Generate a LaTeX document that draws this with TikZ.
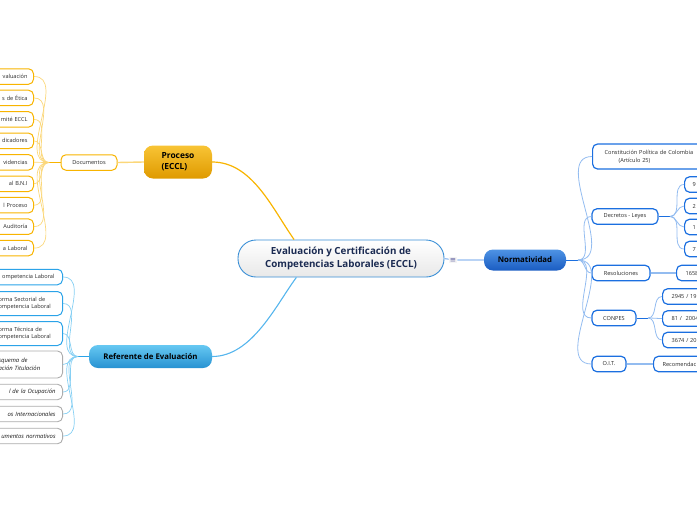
\documentclass[tikz,border=0pt]{standalone}
\usepackage{fontspec}
\setmainfont{Open Sans}
\newfontfamily\symfont{DejaVu Sans}
\definecolor{orgline}{HTML}{F8B400}
\definecolor{orgthin}{HTML}{FBD77A}
\definecolor{orgtop}{HTML}{F8C435}
\definecolor{orgbot}{HTML}{DF9A00}
\definecolor{skyline}{HTML}{2BA3E8}
\definecolor{skythin}{HTML}{86CFF3}
\definecolor{skytop}{HTML}{66C8F2}
\definecolor{skybot}{HTML}{2792D2}
\definecolor{navyline}{HTML}{1B6FE0}
\definecolor{navythin}{HTML}{93BCF0}
\definecolor{navytop}{HTML}{4E93E4}
\definecolor{navybot}{HTML}{1A5CC2}
\definecolor{cenline}{HTML}{3A8FD6}
\definecolor{centext}{HTML}{1B2B52}
\definecolor{leaftext}{HTML}{2A2A2A}
\newcommand\leaffont{\fontsize{5.6}{7.4}\selectfont}
\begin{document}
\begin{tikzpicture}[x=1pt,y=-1pt,
  topic/.style={rounded corners=9pt,font=\fontsize{7.8}{10}\selectfont\bfseries,text=black,inner sep=0pt},
  box/.style={fill=white,rounded corners=5pt,minimum height=15.5pt,font=\leaffont,text=leaftext,inner ysep=1pt},
  obox/.style={box,draw=orgline,line width=1pt},
  oleaf/.style={obox,anchor=east,text width=60pt,align=right,inner xsep=6pt},
  sbox/.style={box,draw=skyline,line width=1pt},
  sleaf/.style={sbox,anchor=east,text width=60pt,align=right,inner xsep=8pt},
  stwo/.style={sbox,anchor=east,text width=58pt,align=left,inner xsep=6pt,minimum height=24pt},
  gleaf/.style={box,draw=gray!65,line width=0.9pt,anchor=east,text width=70pt,align=right,inner xsep=7pt,font=\fontsize{5.9}{8.4}\selectfont\itshape,text=gray!20!black},
  nbox/.style={box,draw=navyline,line width=1.2pt},
  nleaf/.style={nbox,anchor=west,text width=60pt,align=left},
  othin/.style={orgthin,line width=0.7pt},
  sthin/.style={skythin,line width=0.7pt},
  nthin/.style={navythin,line width=0.8pt}]
\useasboundingbox (0,0) rectangle (697,520);
\clip (0,0) rectangle (697,520);

\node[draw=cenline,line width=0.9pt,rounded corners=18pt,top color=white,bottom color=gray!18,
  minimum width=206pt,minimum height=37pt,align=center,text=centext,
  font=\fontsize{9.8}{13.5}\selectfont\bfseries] (cen) at (341,258.5)
  {Evaluación y Certificación de\\Competencias Laborales (ECCL)};
\node[fill=gray!8,inner sep=1pt,text=blue!25!gray,font=\symfont\fontsize{7.5}{7.5}\selectfont] (menu) at (453,260) {≡};

% Proceso
\node[topic,top color=orgtop,bottom color=orgbot,minimum width=68pt,minimum height=33pt,align=left,
  font=\fontsize{8.4}{11}\selectfont\bfseries] (pro) at (178,162) {Proceso\\(ECCL)};
\draw[orgline,line width=1.2pt] (pro.east) .. controls (252,162) and (272,208) .. (cen.158);
\node[obox,minimum width=56pt] (doc) at (89,162.5) {Documentos};
\draw[orgthin,line width=1.4pt] (doc.east) -- (pro.west);
\coordinate (dj) at (49,162.5);
\draw[orgline,line width=1pt] (doc.west) -- (dj);
\foreach \t [count=\i] in {valuación,s de Ética,mité ECCL,dicadores,videncias,al B.N.I,l Proceso,Auditoría,a Laboral} {
  \node[oleaf] (o\i) at (34,{55.05+21.45*\i}) {\t};
  \draw[othin] (dj) to[out=180,in=0] (o\i.east);
}

% Referente de Evaluacion
\node[topic,top color=skytop,bottom color=skybot,minimum width=123pt,minimum height=23pt] (ref) at (150.5,356.5) {Referente de Evaluación};
\draw[skyline!80,line width=1.1pt] (cen.-157) .. controls (276,305) and (252,356.5) .. (ref.east);
\coordinate (rj) at (78,356.5);
\draw[skyline,line width=1pt] (ref.west) -- (rj);
\node[sleaf] (s1) at (63,277) {ompetencia Laboral};
\node[stwo] (s2) at (63,303.5) {orma Sectorial de\\ompetencia Laboral};
\node[stwo] (s3) at (63,333.5) {orma Técnica de\\ompetencia Laboral};
\node[gleaf,align=left,text width=58pt,inner xsep=6pt,minimum height=27pt] (g1) at (63,364.5) {squema de\\ación Titulación};
\node[gleaf] (g2) at (63,392) {l de la Ocupación};
\node[gleaf] (g3) at (63,414) {os Internacionales};
\node[gleaf] (g4) at (63,436) {umentos normativos};
\foreach \n in {s1,s2,s3,g1,g2,g3,g4}
  \draw[sthin] (rj) to[out=180,in=0] (\n.east);

% Normatividad
\node[topic,top color=navytop,bottom color=navybot,minimum width=82pt,minimum height=21pt] (nor) at (525,260) {Normatividad};
\draw[navythin,line width=1.2pt] (cen.east) -- (menu) -- (nor.west);
\coordinate (nj) at (578,260);
\draw[navyline,line width=1pt] (nor.east) -- (nj);
\node[nbox,anchor=west,minimum height=25pt,text width=120pt,align=left,inner xsep=12pt,font=\fontsize{5.6}{7.6}\selectfont] (con) at (592,156.5)
  {Constitución Política de Colombia\\\hspace*{14pt}(Artículo 25)};
\node[nbox,minimum width=66pt] (dec) at (625,216.5) {Decretos - Leyes};
\node[nbox,minimum width=58pt] (res) at (621,273) {Resoluciones};
\node[nbox,minimum width=44pt] (cnp) at (614,318) {CONPES};
\node[nbox,minimum width=34pt] (oit) at (609,364) {O.I.T.};
\foreach \n in {con,dec,res,cnp,oit}
  \draw[nthin] (nj) to[out=0,in=180] (\n.west);

\coordinate (dj2) at (670,216.5);
\draw[navyline,line width=1pt] (dec.east) -- (dj2);
\foreach \t/\y [count=\i] in {9/184.5,2/206,1/227,7/249} {
  \node[nleaf,inner xsep=8pt] (d\i) at (684,\y) {\t};
  \draw[nthin] (dj2) to[out=0,in=180] (d\i.west);
}
\node[nleaf,inner xsep=9pt] (r1) at (676,273) {1658};
\draw[navythin,line width=1.6pt] (res.east) -- (r1.west);

\coordinate (cj) at (648,318);
\draw[navyline,line width=1pt] (cnp.east) -- (cj);
\foreach \t/\y [count=\i] in {{2945 / 19}/296.5,{81 /\ \ 2004}/318.5,{3674 / 20}/340} {
  \node[nleaf,inner xsep=9pt] (c\i) at (662,\y) {\t};
  \draw[nthin] (cj) to[out=0,in=180] (c\i.west);
}
\node[nleaf,inner xsep=9pt] (t1) at (653,364) {Recomendac};
\draw[navythin,line width=1.6pt] (oit.east) -- (t1.west);
\end{tikzpicture}
\end{document}
